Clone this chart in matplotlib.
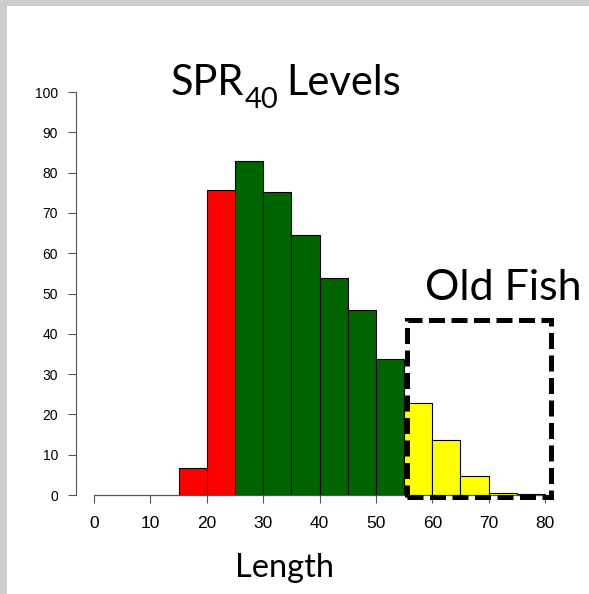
import matplotlib
matplotlib.use("Agg")
import matplotlib.pyplot as plt
from matplotlib.patches import Rectangle

# length bins (left edges, width 5) and bar heights
bin_left = [0, 5, 10, 15, 20, 25, 30, 35, 40, 45, 50, 55, 60, 65, 70, 75]
heights = [0, 0, 0, 6.7, 75.6, 83.0, 75.3, 64.5, 53.8, 45.9, 33.7, 22.8, 13.6, 4.6, 0.4, 0.15]
bar_colors = (["#ff0000"] * 5) + (["#006400"] * 6) + (["#ffff00"] * 5)

x_ticks = list(range(0, 81, 10))
y_ticks = list(range(0, 101, 10))

# "Old Fish" dashed box (data units)
box_x0, box_x1 = 55.5, 81.0
box_y0, box_y1 = -0.4, 43.4

plt.rcParams['font.family'] = ['Lato', 'DejaVu Sans']

W, H = 589, 594
fig = plt.figure(figsize=(W / 100, H / 100), dpi=100, facecolor='white')

# grey frame strips at top and left
fig.patches.append(Rectangle((0, 1 - 6 / H), 1, 6 / H, transform=fig.transFigure,
                             facecolor='#cccccc', edgecolor='none', zorder=0))
fig.patches.append(Rectangle((0, 0), 7 / W, 1, transform=fig.transFigure,
                             facecolor='#cccccc', edgecolor='none', zorder=0))

# axes placed so that x 0->94px, 80->545px ; y 0->495px, 100->92px
ax = fig.add_axes([65.8 / W, (H - 507.1) / H, 507.4 / W, 435.2 / H])
ax.set_xlim(-5, 85)
ax.set_ylim(-3, 105)
ax.patch.set_alpha(0)

ax.bar(bin_left, heights, width=5, align='edge', color=bar_colors,
       edgecolor='black', linewidth=0.8, zorder=2)

ax.add_patch(Rectangle((box_x0, box_y0), box_x1 - box_x0, box_y1 - box_y0,
                       fill=False, edgecolor='black', linewidth=3.6,
                       linestyle=(0, (3.2, 1.3)), clip_on=False, zorder=5))

for s in ['top', 'right']:
    ax.spines[s].set_visible(False)
ax.spines['left'].set_position(('data', -3.2))
ax.spines['left'].set_bounds(0, 100)
ax.spines['bottom'].set_position(('data', 0))
ax.spines['bottom'].set_bounds(0, 80)
for s in ['left', 'bottom']:
    ax.spines[s].set_color('#555555')
    ax.spines[s].set_linewidth(0.8)

ax.set_xticks(x_ticks)
ax.set_yticks(y_ticks)
ax.tick_params(axis='both', color='#555555', width=0.8, length=5.8,
               labelfontfamily='Liberation Sans')
ax.tick_params(axis='x', pad=9, labelsize=12.5)
ax.tick_params(axis='y', pad=7, labelsize=10)

# title: SPR + subscript 40 + Levels, placed piece by piece
renderer = fig.canvas.get_renderer()
base_y = 1 - 95 / H
t1 = fig.text(171 / W, base_y, 'SPR', ha='left', va='baseline', fontsize=30)
x_after = t1.get_window_extent(renderer).x1 / W
t2 = fig.text(x_after, 1 - 108 / H, '40', ha='left', va='baseline', fontsize=21)
x_after = t2.get_window_extent(renderer).x1 / W
fig.text(x_after + 8 / W, base_y, 'Levels', ha='left', va='baseline', fontsize=30)

fig.text(425 / W, 1 - 300 / H, 'Old Fish', ha='left', va='baseline', fontsize=31)
fig.text(285 / W, 1 - 577 / H, 'Length', ha='center', va='baseline', fontsize=23.5)

fig.savefig('out.png', dpi=100, facecolor=fig.get_facecolor())
